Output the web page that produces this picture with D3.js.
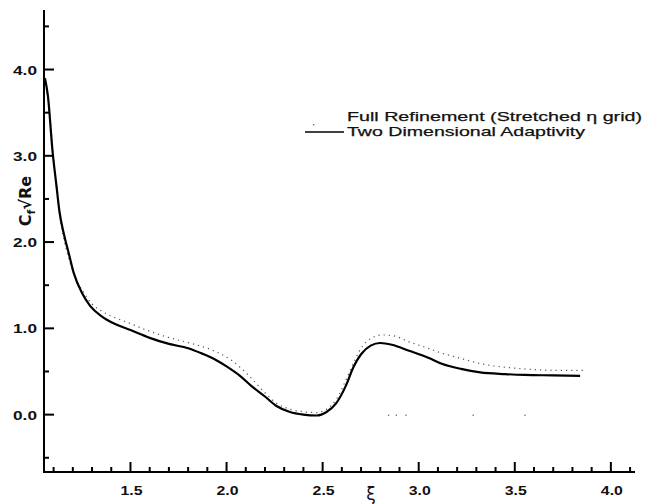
<!DOCTYPE html>
<html>
<head>
<meta charset="utf-8">
<script src="https://cdn.jsdelivr.net/npm/d3@7"></script>
<style>
  html, body { margin: 0; padding: 0; background: #fff; }
  text { font-family: "Liberation Sans", Arial, sans-serif; fill: #111; }
</style>
</head>
<body>
<script>
'use strict';

// skin friction along the body, two solutions
var adaptXi = [1.055, 1.07, 1.095, 1.115, 1.13, 1.155, 1.18, 1.205, 1.25, 1.29, 1.35, 1.42,
    1.50, 1.60, 1.70, 1.80, 1.87, 1.94, 2.00, 2.07, 2.13, 2.20, 2.26, 2.33, 2.40, 2.47,
    2.52, 2.57, 2.62, 2.66, 2.70, 2.75, 2.80, 2.86, 2.95, 3.05, 3.12, 3.22, 3.32, 3.45,
    3.55, 3.70, 3.84];
var adaptCf = [3.90, 3.70, 3.04, 2.65, 2.36, 2.08, 1.86, 1.64, 1.40, 1.26, 1.14, 1.05,
    0.98, 0.89, 0.82, 0.77, 0.71, 0.64, 0.56, 0.45, 0.33, 0.21, 0.10, 0.03, 0.00, -0.01,
    0.03, 0.13, 0.33, 0.55, 0.70, 0.80, 0.83, 0.81, 0.74, 0.66, 0.59, 0.53, 0.49, 0.47,
    0.46, 0.455, 0.45];

var fullXi = [1.055, 1.08, 1.10, 1.125, 1.15, 1.18, 1.21, 1.26, 1.30, 1.355, 1.42, 1.48,
    1.58, 1.70, 1.82, 1.93, 2.03, 2.12, 2.20, 2.26, 2.33, 2.40, 2.47, 2.52, 2.57, 2.62,
    2.67, 2.71, 2.76, 2.81, 2.87, 2.95, 3.03, 3.12, 3.20, 3.34, 3.48, 3.60, 3.72, 3.86];
var fullCf = [3.88, 3.45, 2.95, 2.40, 2.05, 1.78, 1.58, 1.38, 1.26, 1.17, 1.10, 1.05,
    0.96, 0.87, 0.80, 0.72, 0.60, 0.42, 0.23, 0.11, 0.04, 0.01, 0.00, 0.04, 0.15, 0.37,
    0.62, 0.78, 0.87, 0.90, 0.89, 0.82, 0.76, 0.69, 0.64, 0.56, 0.52, 0.50, 0.49, 0.49];

// loose specks sitting on the zero line
var zeroSpeckXi = [2.84, 2.88, 2.93, 3.28, 3.55];

var xMajor = [1.5, 2.0, 2.5, 3.0, 3.5, 4.0];
var xMinor = [1.1, 1.2, 1.3, 1.4, 1.6, 1.7, 1.8, 1.9, 2.1, 2.2, 2.3, 2.4, 2.6, 2.7, 2.8, 2.9,
    3.1, 3.2, 3.3, 3.4, 3.6, 3.7, 3.8, 3.9, 4.1];
var yMajor = [0.0, 1.0, 2.0, 3.0, 4.0];
var yMinor = [-0.5, 0.5, 1.5, 2.5, 3.5, 4.5];

var legendLabels = ['Full Refinement (Stretched \u03b7 grid)', 'Two Dimensional Adaptivity'];

var width = 658,
    height = 504;

var x = d3.scaleLinear().domain([1.05, 4.11]).range([44, 632]),
    y = d3.scaleLinear().domain([-0.665, 4.69]).range([472, 10]);

var svg = d3.select('body').append('svg')
    .attr('width', width)
    .attr('height', height);

function zip(a, b) {
    return a.map(function(v, i) { return [v, b[i]]; });
}

var line = d3.line()
    .x(function(d) { return x(d[0]); })
    .y(function(d) { return y(d[1]); })
    .curve(d3.curveMonotoneX);

// dotted solution first so the solid line sits on top
svg.append('path')
    .datum(zip(fullXi, fullCf))
    .attr('d', line)
    .attr('fill', 'none')
    .attr('stroke', '#555')
    .attr('stroke-width', 1.2)
    .attr('stroke-dasharray', '1.2,4')
    .attr('transform', 'translate(0,-2)');

svg.append('path')
    .datum(zip(adaptXi, adaptCf))
    .attr('d', line)
    .attr('fill', 'none')
    .attr('stroke', '#000')
    .attr('stroke-width', 2.2)
    .attr('stroke-linejoin', 'round');

svg.selectAll('.speck')
    .data(zeroSpeckXi)
  .enter().append('rect')
    .attr('class', 'speck')
    .attr('x', function(d) { return x(d); })
    .attr('y', y(0))
    .attr('width', 1.3)
    .attr('height', 1.3)
    .attr('fill', '#666');

// axes, ticks point inward
var x0 = x.range()[0],
    y0 = y.range()[0];

svg.append('line')
    .attr('x1', x0).attr('x2', 635)
    .attr('y1', y0).attr('y2', y0)
    .attr('stroke', '#000').attr('stroke-width', 2);

svg.append('line')
    .attr('x1', x0).attr('x2', x0)
    .attr('y1', 10).attr('y2', y0 + 1)
    .attr('stroke', '#000').attr('stroke-width', 2);

function drawXTicks(cls, vals, len) {
    svg.selectAll('.' + cls)
        .data(vals)
      .enter().append('line')
        .attr('class', cls)
        .attr('x1', function(d) { return x(d); })
        .attr('x2', function(d) { return x(d); })
        .attr('y1', y0)
        .attr('y2', y0 - len)
        .attr('stroke', '#000')
        .attr('stroke-width', 2);
}

function drawYTicks(cls, vals, len) {
    svg.selectAll('.' + cls)
        .data(vals)
      .enter().append('line')
        .attr('class', cls)
        .attr('x1', x0)
        .attr('x2', x0 + len)
        .attr('y1', function(d) { return y(d); })
        .attr('y2', function(d) { return y(d); })
        .attr('stroke', '#000')
        .attr('stroke-width', 2);
}

drawXTicks('xmaj', xMajor, 10);
drawXTicks('xmin', xMinor, 5);
drawYTicks('ymaj', yMajor, 10);
drawYTicks('ymin', yMinor, 5);

// tick labels
svg.selectAll('.xlab')
    .data(xMajor)
  .enter().append('text')
    .attr('class', 'xlab')
    .attr('x', function(d) { return x(d) - 10; })
    .attr('y', 495)
    .attr('textLength', 22)
    .attr('lengthAdjust', 'spacingAndGlyphs')
    .style('font-size', '13px')
    .style('font-weight', 'bold')
    .text(function(d) { return d.toFixed(1); });

svg.selectAll('.ylab')
    .data(yMajor)
  .enter().append('text')
    .attr('class', 'ylab')
    .attr('x', 13)
    .attr('y', function(d) { return y(d) + 5; })
    .attr('textLength', 24)
    .attr('lengthAdjust', 'spacingAndGlyphs')
    .style('font-size', '13px')
    .style('font-weight', 'bold')
    .text(function(d) { return d.toFixed(1); });

// axis titles
svg.append('text')
    .attr('x', 371)
    .attr('y', 500)
    .attr('text-anchor', 'middle')
    .style('font-family', '"DejaVu Sans", sans-serif')
    .style('font-size', '17px')
    .text('\u03be');

var ytitle = svg.append('text')
    .attr('transform', 'translate(31,201) rotate(-90)')
    .attr('text-anchor', 'middle')
    .style('font-family', '"DejaVu Sans", sans-serif')
    .style('font-size', '16px')
    .style('font-weight', 'bold');
ytitle.append('tspan').text('C');
ytitle.append('tspan').attr('dy', 4).style('font-size', '11px').text('f');
ytitle.append('tspan').attr('dy', -4).text('\u221aRe');

// legend
var legend = svg.append('g');

legend.append('rect')
    .attr('x', 313).attr('y', 124)
    .attr('width', 1.3).attr('height', 1.3)
    .attr('fill', '#666');

legend.append('line')
    .attr('x1', 305).attr('x2', 344)
    .attr('y1', 132).attr('y2', 132)
    .attr('stroke', '#000')
    .attr('stroke-width', 1.6);

legend.selectAll('.legtext')
    .data(legendLabels)
  .enter().append('text')
    .attr('class', 'legtext')
    .attr('x', 347)
    .attr('y', function(d, i) { return 121 + i * 15; })
    .attr('textLength', function(d, i) { return i === 0 ? 295 : 238; })
    .attr('lengthAdjust', 'spacingAndGlyphs')
    .style('font-size', '13.5px')
    .style('stroke', '#111')
    .style('stroke-width', 0.25)
    .text(function(d) { return d; });
</script>
</body>
</html>
